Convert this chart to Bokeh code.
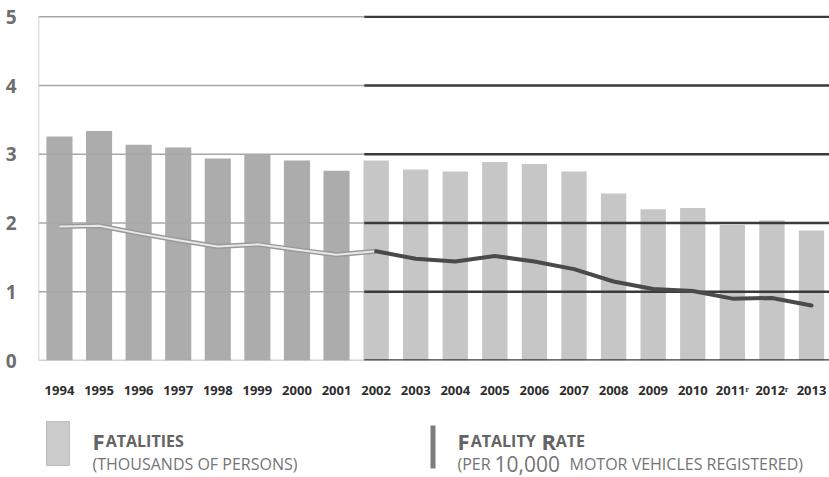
from bokeh.plotting import figure
from bokeh.models import Range1d, FixedTicker
from bokeh.layouts import column
from bokeh.embed import file_html
from bokeh.resources import INLINE
from bokeh.core.properties import value

# ---------------- data ----------------
years = list(range(1994, 2014))
fatalities = [3.26, 3.34, 3.14, 3.10, 2.94, 2.99, 2.91, 2.76, 2.91, 2.78,
              2.75, 2.89, 2.86, 2.75, 2.43, 2.20, 2.22, 1.97, 2.04, 1.89]
fatality_rate = [1.95, 1.96, 1.85, 1.75, 1.66, 1.69, 1.61, 1.54, 1.59, 1.48,
                 1.44, 1.52, 1.44, 1.33, 1.15, 1.04, 1.01, 0.90, 0.91, 0.80]
y_ticks = [0, 1, 2, 3, 4, 5]
label_overrides = {2011: "2011ʳ", 2012: "2012ʳ"}
n_faded = 8  # 1994-2001 drawn in the faded (older) style

FONT = "Open Sans"

x_start, x_end = 1994 - 0.53, 2013 + 0.455
split = 2001.7

p = figure(width=829, height=401, x_range=Range1d(x_start, x_end),
           y_range=Range1d(0, 5.02), output_backend="svg",
           toolbar_location=None, min_border_left=38, min_border_right=0,
           min_border_top=15, min_border_bottom=40)
p.outline_line_color = None
p.xgrid.visible = False
p.ygrid.visible = False

# bars
p.vbar(x=years[:n_faded], top=fatalities[:n_faded], width=0.66,
       fill_color="#acacac", line_color=None)
p.vbar(x=years[n_faded:], top=fatalities[n_faded:], width=0.64,
       fill_color="#c6c6c6", line_color=None)

# gridlines: light over the faded part, dark over the rest
p.segment(x0=[x_start] * len(y_ticks), y0=y_ticks, x1=[split] * len(y_ticks),
          y1=y_ticks, line_color="#a8a8a8", line_width=1.5)
p.segment(x0=[split] * len(y_ticks), y0=y_ticks, x1=[x_end] * len(y_ticks),
          y1=y_ticks, line_color="#3a3a3a", line_width=2.5)
# left frame edge
p.segment(x0=[x_start], y0=[y_ticks[0]], x1=[x_start], y1=[y_ticks[-1]],
          line_color="#c4c4c4", line_width=1.5)

# fatality rate line
p.line(years[:n_faded + 1], fatality_rate[:n_faded + 1], line_color="#9a9a9a",
       line_width=5, line_join="round")
p.line(years[:n_faded + 1], fatality_rate[:n_faded + 1], line_color="#e8e8e8",
       line_width=2, line_join="round")
p.line(years[n_faded:], fatality_rate[n_faded:], line_color="#4a4a4a",
       line_width=4, line_join="round", line_cap="round")

# axes
xa = p.xaxis[0]
xa.ticker = FixedTicker(ticks=years)
xa.major_label_overrides = label_overrides
xa.axis_line_color = None
xa.major_tick_line_color = None
xa.minor_tick_line_color = None
xa.major_label_standoff = 14
xa.major_label_text_font = FONT
xa.major_label_text_font_style = "bold"
xa.major_label_text_font_size = "13px"
xa.major_label_text_color = "#2e2e2e"

ya = p.yaxis[0]
ya.ticker = FixedTicker(ticks=y_ticks)
ya.axis_line_color = None
ya.major_tick_line_color = None
ya.minor_tick_line_color = None
ya.major_label_standoff = 16
ya.major_label_text_font = FONT
ya.major_label_text_font_style = "bold"
ya.major_label_text_font_size = "19px"
ya.major_label_text_color = "#6e6e6e"

# ---------------- legend (separate strip, pixel-like coordinates) ----------------
LG_H = 76
LG_LEFT = 38
lg = figure(width=829, height=LG_H, x_range=Range1d(LG_LEFT, 829),
            y_range=Range1d(LG_H, 0), output_backend="svg",
            toolbar_location=None, min_border=0, min_border_left=LG_LEFT,
            x_axis_type=None, y_axis_type=None)
lg.outline_line_color = None
lg.grid.visible = False

lg.quad(left=[46], right=[69], top=[20], bottom=[64], fill_color="#cbcbcb",
        line_color="#bdbdbd", line_width=1)
lg.quad(left=[430], right=[435], top=[24], bottom=[67], fill_color="#7d7d7d",
        line_color=None)

def txt(x, y, s, size, bold, color):
    lg.text(x=[x], y=[y], text=[s], text_font=value(FONT),
            text_font_size=size, text_font_style="bold" if bold else "normal",
            text_color=color, text_baseline="alphabetic", text_align="left")

c1 = "#646464"
c2 = "#747474"
L1, L2 = 39, 62
# left item
txt(92, L1, "F", "22px", True, c1)
txt(105.2, L1, "ATALITIES", "16px", True, c1)
txt(92, L2, "(THOUSANDS OF PERSONS)", "16px", False, c2)
# right item
txt(457, L1, "F", "22px", True, c1)
txt(470.2, L1, "ATALITY", "16px", True, c1)
txt(541, L1, "R", "22px", True, c1)
txt(555.3, L1, "ATE", "16px", True, c1)
txt(457, L2, "(PER", "16px", False, c2)
txt(494, L2, "10,000", "21px", False, c2)
txt(569, L2, "MOTOR VEHICLES REGISTERED)", "16px", False, c2)

layout = column(p, lg, spacing=0)
open("out.html", "w").write(file_html(layout, INLINE))
